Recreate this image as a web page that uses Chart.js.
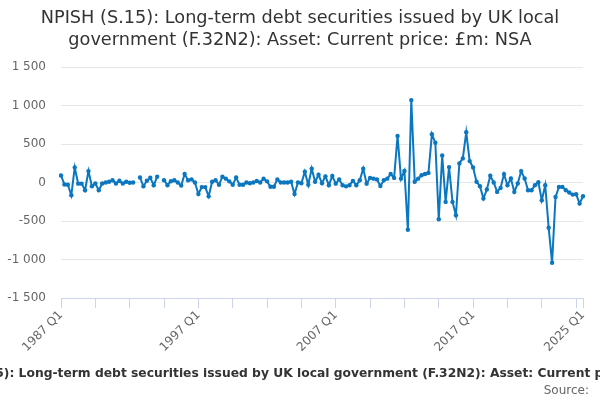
<!DOCTYPE html>
<html>
<head>
<meta charset="utf-8">
<script src="https://cdn.jsdelivr.net/npm/chart.js@4"></script>
<style>
html,body{margin:0;padding:0;background:#fff;}
#wrap{width:600px;height:400px;}
</style>
</head>
<body>
<div id="wrap"><canvas id="c" width="600" height="400"></canvas></div>
<script>
const titleLines = ["NPISH (S.15): Long-term debt securities issued by UK local", "government (F.32N2): Asset: Current price: £m: NSA"];
const seriesName = "NPISH (S.15): Long-term debt securities issued by UK local government (F.32N2): Asset: Current price: £m: NSA";
const sourceText = "Source:";
const startYear = 1987;
const endYear = 2025;
const labeledTicks = ["1987 Q1", "1997 Q1", "2007 Q1", "2017 Q1", "2025 Q1"];
const yTicks = [-1500, -1000, -500, 0, 500, 1000, 1500];

const categories = [];
for (let y = startYear; y <= endYear; y++) {
  for (let q = 1; q <= 4; q++) {
    if (y === endYear && q > 1) break;
    categories.push(y + " Q" + q);
  }
}

const values = [
  90, -25, -30, -165, 195, -15, -15, -100, 148, -48,
  -13, -100, -13, 0, 9, 30, -13, 22, -13, 9,
  -4, 0, null, 65, -48, 22, 61, -35, 74, null,
  30, -35, 17, 30, 0, -40, 110, 30, 40, 0,
  -150, -60, -60, -180, 10, 30, -30, 75, 50, 15,
  -30, 65, -30, -30, 0, -10, 0, 20, 0, 50,
  15, -55, -55, 40, 0, 0, 0, 10, -150, 0,
  -10, 140, -30, 180, 10, 100, -10, 80, -35, 85,
  -15, 40, -35, -50, -35, 20, -35, 30, 180, -15,
  60, 50, 40, -45, 30, 50, 110, 60, 605, 50,
  150, -613, 1070, 10, 50, 95, 110, 125, 626, 517,
  -478, 350, -252, 200, -252, -426, 248, 313, 652, 278,
  196, 10, -48, -209, -91, 87, 0, -122, -70, 109,
  -35, 52, -122, -13, 148, 52, -100, -100, -35, 4,
  -230, -35, -587, -1043, -187, -57, -57, -100, -130, -157,
  -152, -274, -178
];

const lineColor = '#0b77c0';
const axisColor = '#ccd6eb';
const lastIdx = categories.length - 1;

function fmt(v) {
  const s = Math.abs(v).toString().replace(/\B(?=(\d{3})+(?!\d))/g, ' ');
  return (v < 0 ? '-' : '') + s;
}

const bottomText = {
  id: 'bottomText',
  afterDraw(chart) {
    const ctx = chart.ctx;
    ctx.save();
    ctx.fillStyle = '#333333';
    ctx.font = 'bold 12.3px "DejaVu Sans"';
    ctx.textAlign = 'center';
    ctx.textBaseline = 'middle';
    ctx.fillText(seriesName, 309, 374);
    ctx.fillStyle = '#666666';
    ctx.font = '12px "DejaVu Sans"';
    ctx.textAlign = 'right';
    ctx.fillText(sourceText, 589, 391);
    ctx.restore();
  }
};

new Chart(document.getElementById('c'), {
  type: 'line',
  data: {
    labels: categories,
    datasets: [{
      label: seriesName,
      data: values,
      borderColor: lineColor,
      backgroundColor: lineColor,
      borderWidth: 2,
      pointRadius: 2.2,
      pointHoverRadius: 2.2,
      pointBorderWidth: 0,
      spanGaps: false,
      tension: 0
    }]
  },
  options: {
    responsive: false,
    animation: false,
    devicePixelRatio: 1,
    layout: { padding: { left: 0, right: 0, top: 0, bottom: 30 } },
    plugins: {
      legend: { display: false },
      tooltip: { enabled: false },
      title: {
        display: true,
        text: titleLines,
        color: '#333333',
        font: { family: 'DejaVu Sans', size: 17.7, weight: 'normal', lineHeight: 1.25 },
        padding: { top: 7, bottom: 15.75 }
      }
    },
    scales: {
      x: {
        type: 'category',
        offset: false,
        afterFit(s) { s.height = 72; s.paddingRight = 17; },
        border: { display: true, color: axisColor, width: 1 },
        grid: {
          drawOnChartArea: false,
          drawTicks: true,
          tickLength: 10,
          lineWidth: 1,
          color: (c) => (c.index % 10 === 0 || c.index === lastIdx) ? axisColor : 'rgba(0,0,0,0)'
        },
        ticks: {
          autoSkip: false,
          maxRotation: 45,
          minRotation: 45,
          padding: 0,
          color: '#666666',
          font: { family: 'DejaVu Sans', size: 12 },
          callback: function(val, i) {
            const lab = categories[i];
            return labeledTicks.includes(lab) ? lab : '';
          }
        }
      },
      y: {
        min: -1500,
        max: 1500,
        afterFit(s) { s.width = 61; },
        afterBuildTicks(s) { s.ticks = yTicks.map(v => ({ value: v })); },
        border: { display: false },
        grid: { color: '#e6e6e6', lineWidth: 1, drawTicks: false },
        ticks: {
          padding: 15,
          color: '#666666',
          font: { family: 'DejaVu Sans', size: 12 },
          callback: (v) => fmt(v)
        }
      }
    }
  },
  plugins: [bottomText]
});
</script>
</body>
</html>
